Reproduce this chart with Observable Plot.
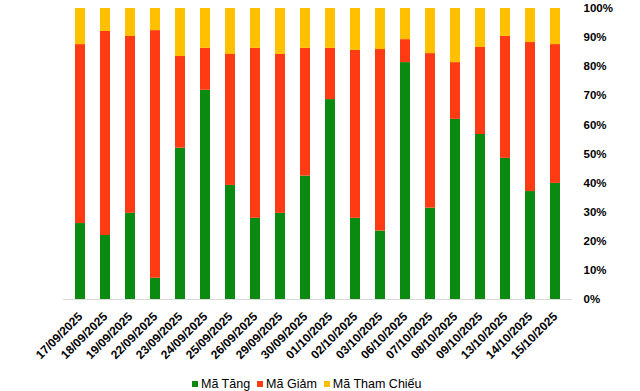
<!DOCTYPE html>
<html>
<head>
<meta charset="utf-8">
<script src="https://cdn.jsdelivr.net/npm/d3@7"></script>
<script src="https://cdn.jsdelivr.net/npm/@observablehq/plot@0.6"></script>
<style>
  html, body { margin: 0; padding: 0; background: #fff; }
  #chart svg { display: block; }
  #legend { height: 23px; display: flex; justify-content: flex-start; align-items: center;
    font-family: "Liberation Sans", Arial, sans-serif; font-size: 12.5px; color: #000; padding-top: 4px; padding-left: 192px; }
  .item { display: flex; align-items: center; margin-right: 7px; }
  .sw { width: 6px; height: 6px; margin-right: 3px; }
</style>
</head>
<body>
<div id="chart"></div>
<div id="legend"></div>
<script>
const dates = ["17/09/2025","18/09/2025","19/09/2025","22/09/2025","23/09/2025","24/09/2025","25/09/2025","26/09/2025","29/09/2025","30/09/2025","01/10/2025","02/10/2025","03/10/2025","06/10/2025","07/10/2025","08/10/2025","09/10/2025","13/10/2025","14/10/2025","15/10/2025"];
const tang  = [26.1, 22.0, 29.6, 7.3, 52.0, 71.9, 39.2, 27.9, 29.6, 42.4, 68.7, 27.9, 23.5, 81.4, 31.4, 61.9, 56.7, 48.5, 37.1, 39.9];
const giam  = [61.5, 70.1, 60.8, 85.1, 31.5, 14.4, 45.0, 58.4, 54.6, 43.9, 17.6, 57.7, 62.4, 7.9, 53.1, 19.5, 29.9, 41.9, 51.2, 47.7];
const thamChieu = [12.4, 7.9, 9.6, 7.6, 16.5, 13.7, 15.8, 13.7, 15.8, 13.7, 13.7, 14.4, 14.1, 10.7, 15.5, 18.6, 13.4, 9.6, 11.7, 12.4];
const seriesNames = ["Mã Tăng", "Mã Giảm", "Mã Tham Chiếu"];
const seriesColors = ["#0b8a12", "#ff3b14", "#ffc000"];

const seriesValues = [tang, giam, thamChieu];
const table = [];
seriesNames.forEach((s, si) => dates.forEach((d, i) => table.push({date: d, series: s, value: seriesValues[si][i]})));

const chart = Plot.plot({
  width: 640,
  height: 368,
  marginTop: 8,
  marginBottom: 69,
  marginLeft: 63,
  marginRight: 68,
  style: {fontFamily: "'Liberation Sans', Arial, sans-serif", fontSize: "11px", fontWeight: "bold", color: "#000"},
  x: {domain: dates, paddingInner: 0.6, paddingOuter: 0.3, label: null},
  y: {domain: [0, 1], label: null},
  color: {domain: seriesNames, range: seriesColors},
  marks: [
    Plot.barY(table, Plot.stackY({offset: "normalize", order: null}, {x: "date", y: "value", fill: "series"})),
    Plot.ruleY([0], {stroke: "#d9d9d9", strokeWidth: 1}),
    Plot.axisX({tickRotate: -45, tickSize: 0, tickPadding: 15, fontSize: 12, label: null}),
    Plot.axisY({anchor: "right", ticks: d3.range(0, 1.01, 0.1), tickFormat: d3.format(".0%"), tickSize: 0, tickPadding: 11, fontSize: 11.5, label: null})
  ]
});
document.getElementById("chart").appendChild(chart);

const legend = document.getElementById("legend");
seriesNames.forEach((s, i) => {
  const it = document.createElement("div"); it.className = "item";
  const sw = document.createElement("div"); sw.className = "sw"; sw.style.background = seriesColors[i];
  const t = document.createElement("span"); t.textContent = s;
  it.appendChild(sw); it.appendChild(t); legend.appendChild(it);
});
</script>
</body>
</html>
